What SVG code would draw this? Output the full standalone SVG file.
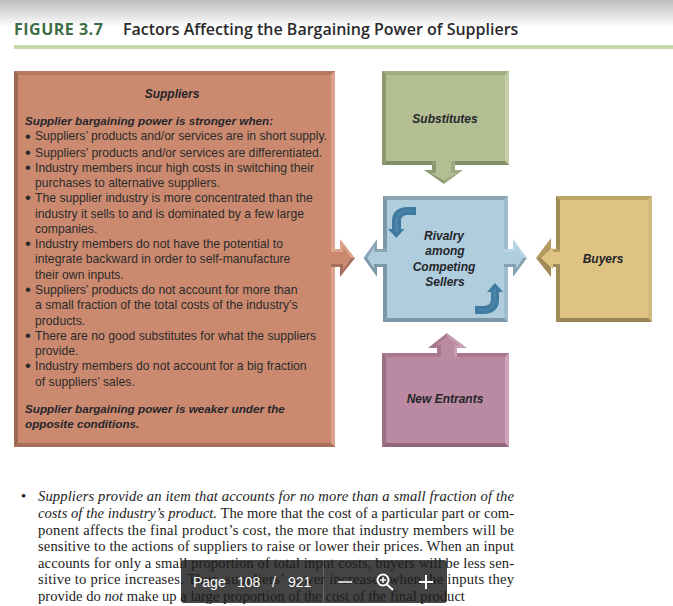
<svg xmlns="http://www.w3.org/2000/svg" width="673" height="606" viewBox="0 0 673 606">
<defs>
<linearGradient id="topfade" x1="0" y1="0" x2="0" y2="1"><stop offset="0" stop-color="#bdbdbd"/><stop offset="1" stop-color="#ffffff"/></linearGradient>
</defs>
<style>
.lab{font-family:"Liberation Sans",Arial,sans-serif;font-size:12px;font-weight:bold;font-style:italic;fill:#26262a;text-anchor:middle}
.head{font-family:"Liberation Sans",Arial,sans-serif;font-size:11.7px;font-weight:bold;font-style:italic;fill:#26262a}
.li{font-family:"Liberation Sans",Arial,sans-serif;font-size:12.2px;fill:#2c2a2a}
.bu{font-family:"Liberation Sans",Arial,sans-serif;font-size:17px;fill:#2c2a2a}
.b{font-family:"Liberation Serif","Times New Roman",serif;font-size:14.6px;fill:#1c1c1c}
.i{font-style:italic}
.t{font-family:"Open Sans",sans-serif;font-size:16px;font-weight:600;fill:#2a2a2e}
.w{font-family:"Liberation Sans",sans-serif;font-size:14px;fill:#fff}
</style>
<rect width="673" height="606" fill="#fff"/>
<rect width="673" height="27" fill="url(#topfade)"/>
<text x="14" y="34.500" class="t" style="font-weight:700;fill:#3c6e45;letter-spacing:.5px">FIGURE 3.7</text>
<text x="123" y="34.500" class="t">Factors Affecting the Bargaining Power of Suppliers</text>
<rect x="14" y="45" width="659" height="4" fill="#c9d8a8"/>
<g id="suppliers">
<rect x="14" y="71" width="321" height="376" fill="#cb8a70"/>
<path d="M14 71H335L331 75H18Z" fill="#b47861"/><path d="M14 71L18 75V443L14 447Z" fill="#9c6a55"/><path d="M335 71L331 75V443L335 447Z" fill="#dca48c"/><path d="M14 447L18 443H331L335 447Z" fill="#a56f5a"/>
<text x="172" y="98" class="lab">Suppliers</text>
<text x="25" y="125" class="head">Supplier bargaining power is stronger when:</text>
<text class="bu" x="25" y="142">•</text><text class="li" x="35" y="140" textLength="292">Suppliers’ products and/or services are in short supply.</text>
<text class="bu" x="25" y="158">•</text><text class="li" x="35" y="157">Suppliers’ products and/or services are differentiated.</text>
<text class="bu" x="25" y="173">•</text><text class="li" x="35" y="172">Industry members incur high costs in switching their</text>
<text class="li" x="35" y="187">purchases to alternative suppliers.</text>
<text class="bu" x="25" y="203">•</text><text class="li" x="35" y="202">The supplier industry is more concentrated than the</text>
<text class="li" x="35" y="218">industry it sells to and is dominated by a few large</text>
<text class="li" x="35" y="233">companies.</text>
<text class="bu" x="25" y="249">•</text><text class="li" x="35" y="248">Industry members do not have the potential to</text>
<text class="li" x="35" y="263">integrate backward in order to self-manufacture</text>
<text class="li" x="35" y="279">their own inputs.</text>
<text class="bu" x="25" y="295">•</text><text class="li" x="35" y="294">Suppliers’ products do not account for more than</text>
<text class="li" x="35" y="309">a small fraction of the total costs of the industry’s</text>
<text class="li" x="35" y="325">products.</text>
<text class="bu" x="25" y="341">•</text><text class="li" x="35" y="340">There are no good substitutes for what the suppliers</text>
<text class="li" x="35" y="355">provide.</text>
<text class="bu" x="25" y="371">•</text><text class="li" x="35" y="370">Industry members do not account for a big fraction</text>
<text class="li" x="35" y="386">of suppliers’ sales.</text>
<text x="25" y="413" class="head">Supplier bargaining power is weaker under the</text>
<text x="25" y="428" class="head">opposite conditions.</text>
</g>
<g id="substitutes">
<rect x="382" y="71" width="127" height="94" fill="#b3bf93"/>
<path d="M382 71H509L505 75H386Z" fill="#a0ad80"/><path d="M382 71L386 75V161L382 165Z" fill="#8c9a70"/><path d="M509 71L505 75V161L509 165Z" fill="#c3cda8"/><path d="M382 165L386 161H505L509 165Z" fill="#828f68"/>
<text x="445" y="123" class="lab">Substitutes</text>
</g>
<g id="rivalry">
<rect x="383" y="196" width="125" height="126" fill="#afcddd"/>
<path d="M383 196H508L504 200H387Z" fill="#8aa5b5"/><path d="M383 196L387 200V318L383 322Z" fill="#7c98a8"/><path d="M508 196L504 200V318L508 322Z" fill="#9dbccd"/><path d="M383 322L387 318H504L508 322Z" fill="#7c98a8"/>
<path d="M416 207H408C397 207 392 213 392 221V229H388L396.300 238 404.500 229H401V222C401 217 403 215 408 215H416Z" fill="#3f7ba1"/>
<path d="M414 210H408C400 210 395 215 395 222V232H398V222C398 215 402 212 408 212H414Z" fill="#4a84a8"/>
<path d="M475 314H483C494 314 499 308 499 300V292H503L495 283 487 292H491V299C491 304 488 306 483 306H475Z" fill="#3f7ba1"/>
<path d="M477 311H483C491 311 496 306 496 299V289H493V299C493 306 489 309 483 309H477Z" fill="#4a84a8"/>
<text x="444" y="240" class="lab">Rivalry</text>
<text x="445" y="255" class="lab">among</text>
<text x="444" y="271" class="lab">Competing</text>
<text x="445" y="286" class="lab">Sellers</text>
</g>
<g id="buyers">
<rect x="556" y="196" width="96" height="126" fill="#dfc383"/>
<path d="M556 196H652L648 200H560Z" fill="#bda668"/><path d="M556 196L560 200V318L556 322Z" fill="#a08a55"/><path d="M652 196L648 200V318L652 322Z" fill="#d2b97d"/><path d="M556 322L560 318H648L652 322Z" fill="#978353"/>
<text x="603" y="263" class="lab">Buyers</text>
</g>
<g id="new-entrants">
<rect x="382" y="353" width="127" height="94" fill="#b98aa2"/>
<path d="M382 353H509L505 357H386Z" fill="#a9788f"/><path d="M382 353L386 357V443L382 447Z" fill="#9a6e84"/><path d="M509 353L505 357V443L509 447Z" fill="#cda4b8"/><path d="M382 447L386 443H505L509 447Z" fill="#92677d"/>
<text x="445" y="403" class="lab">New Entrants</text>
</g>
<g id="connectors">
<g id="arrow-suppliers">
<path d="M331 249H340V239L355 258H331Z" fill="#dca48c"/><path d="M331 267H340V277L355 258H331Z" fill="#a56f5a"/>
<path d="M331 252H343V246L351 258 343 270V264H331Z" fill="#cb8a70"/></g>
<g id="arrow-rivalry-left">
<path d="M387 249H377V239L363.500 258H387Z" fill="#8aa5b5"/><path d="M387 267H377V277L363.500 258H387Z" fill="#7c98a8"/>
<path d="M387 252H374V247L367.500 258 374 269V264H387Z" fill="#afcddd"/></g>
<g id="arrow-rivalry-right">
<path d="M504 249H513V239L527 258H504Z" fill="#b9d5e4"/><path d="M504 267H513V277L527 258H504Z" fill="#86a2b2"/>
<path d="M504 252H516V247L523 258 516 269V264H504Z" fill="#afcddd"/></g>
<g id="arrow-substitutes">
<path d="M432 161V170H424L444 184V161Z" fill="#8c9a70"/><path d="M455 161V170H463L444 184V161Z" fill="#9dab80"/>
<path d="M436 161V173H431L444 180.500 457 173H451V161Z" fill="#b3bf93"/></g>
<g id="arrow-buyers">
<path d="M560 249H551V238L536 258H560Z" fill="#b39a60"/><path d="M560 267H551V277L536 258H560Z" fill="#a08a55"/>
<path d="M560 252H553V247L541 258 553 269V264H560Z" fill="#dfc383"/></g>
<g id="arrow-entrants">
<path d="M437 357V348H428L447 333V357Z" fill="#a9788f"/><path d="M457 357V348H467L447 333V357Z" fill="#c79db2"/>
<path d="M441 357V345H436L447 337 459 345H454V357Z" fill="#b98aa2"/></g>
</g>
<g id="page-toolbar-back"><rect x="181" y="560" width="266" height="43" rx="3" fill="#444"/><rect x="323" y="560" width="1" height="43" fill="#666"/></g>
<g id="body-text">
<text class="b" x="21" y="501">•</text>
<text class="b i" x="38" y="501" textLength="476">Suppliers provide an item that accounts for no more than a small fraction of the</text>
<text class="b" x="38" y="518" textLength="476"><tspan class="i">costs of the industry’s product.</tspan> The more that the cost of a particular part or com-</text>
<text class="b" x="38" y="534.500" textLength="476">ponent affects the final product’s cost, the more that industry members will be</text>
<text class="b" x="38" y="551" textLength="476">sensitive to the actions of suppliers to raise or lower their prices. When an input</text>
<text class="b" x="38" y="567.500" textLength="476">accounts for only a small proportion of total input costs, buyers will be less sen-</text>
<text class="b" x="38" y="584" textLength="476">sitive to price increases. Thus, suppliers’ power increases when the inputs they</text>
<text class="b" x="38" y="600.500">provide do <tspan class="i">not</tspan> make up a large proportion of the cost of the final product</text>
</g>
<g id="page-toolbar">
<text x="193" y="587" class="w">Page</text>
<text x="237" y="587" class="w">108</text>
<text x="272" y="587" class="w">/</text>
<text x="288" y="587" class="w">921</text>
<rect x="338" y="581" width="14" height="2" fill="#ccc"/>
<circle cx="383" cy="580" r="5.500" fill="none" stroke="#fff" stroke-width="2"/>
<path d="M380 580H386M383 577V583" stroke="#fff" stroke-width="1.500"/>
<path d="M387 584.500L393 590" stroke="#fff" stroke-width="2"/>
<path d="M419 582H433M426 575V589" stroke="#fff" stroke-width="2"/>
</g>
</svg>
